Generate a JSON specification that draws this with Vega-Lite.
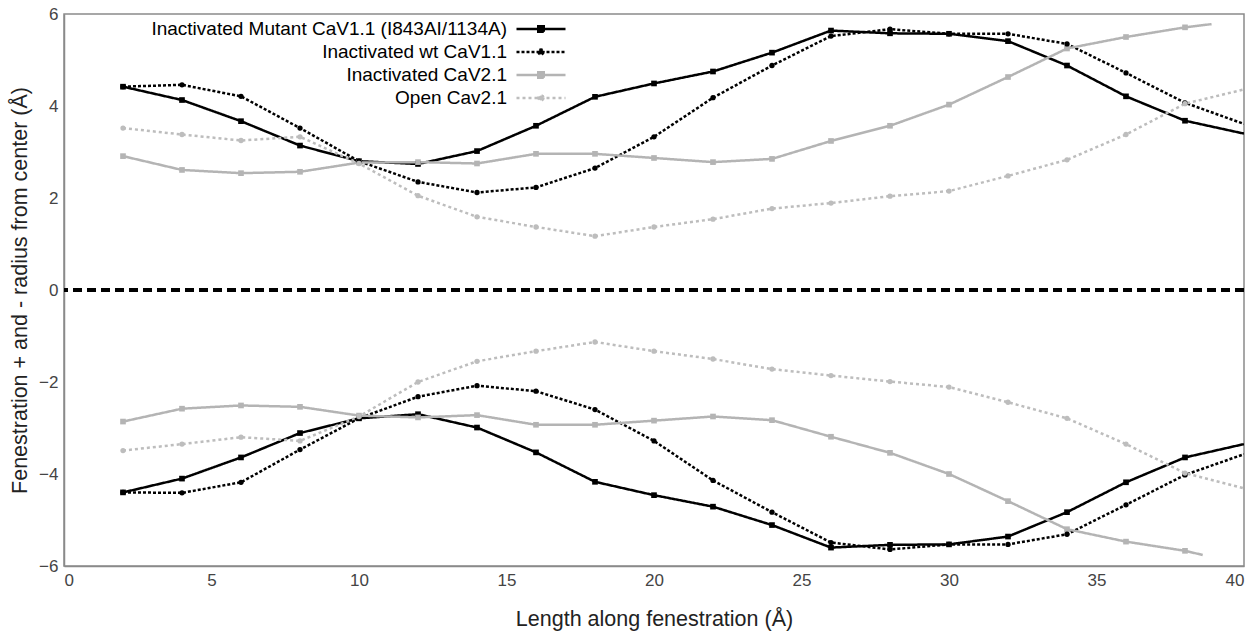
{
 "$schema": "https://vega.github.io/schema/vega-lite/v6.json",
 "width": 1180, "height": 552,
 "autosize": {"type": "none"},
 "padding": {"left": 64, "top": 14, "right": 13, "bottom": 68},
 "config": {
  "font": "Liberation Sans",
  "view": {"stroke": "#8a8a8a", "strokeWidth": 1.5},
  "axis": {"grid": false, "domainColor": "#8a8a8a", "domainWidth": 1.5, "labelFontSize": 17, "labelColor": "#444", "titleFontSize": 21.5, "titleFontWeight": "normal", "titleColor": "#222", "ticks": false, "labelPadding": 6},
  "legend": {"orient": "none", "legendX": 451.5, "legendY": 5.5, "title": null, "padding": 0, "symbolType": "stroke", "symbolSize": 100, "symbolStrokeWidth": 2.5, "symbolOffset": 16, "labelAlign": "right", "labelOffset": -43.5, "labelFontSize": 19, "labelColor": "#000", "labelLimit": 0, "rowPadding": 3}
 },
 "data": {"values": [
  {"x":2,"y":4.42,"s":"A","h":"t"},{"x":4,"y":4.13,"s":"A","h":"t"},{"x":6,"y":3.67,"s":"A","h":"t"},{"x":8,"y":3.14,"s":"A","h":"t"},{"x":10,"y":2.80,"s":"A","h":"t"},{"x":12,"y":2.74,"s":"A","h":"t"},{"x":14,"y":3.02,"s":"A","h":"t"},{"x":16,"y":3.57,"s":"A","h":"t"},{"x":18,"y":4.20,"s":"A","h":"t"},{"x":20,"y":4.49,"s":"A","h":"t"},{"x":22,"y":4.75,"s":"A","h":"t"},{"x":24,"y":5.16,"s":"A","h":"t"},{"x":26,"y":5.64,"s":"A","h":"t"},{"x":28,"y":5.58,"s":"A","h":"t"},{"x":30,"y":5.57,"s":"A","h":"t"},{"x":32,"y":5.41,"s":"A","h":"t"},{"x":34,"y":4.88,"s":"A","h":"t"},{"x":36,"y":4.21,"s":"A","h":"t"},{"x":38,"y":3.68,"s":"A","h":"t"},{"x":40,"y":3.40,"s":"A","h":"t"},
  {"x":2,"y":4.42,"s":"B","h":"t"},{"x":4,"y":4.46,"s":"B","h":"t"},{"x":6,"y":4.21,"s":"B","h":"t"},{"x":8,"y":3.52,"s":"B","h":"t"},{"x":10,"y":2.80,"s":"B","h":"t"},{"x":12,"y":2.35,"s":"B","h":"t"},{"x":14,"y":2.12,"s":"B","h":"t"},{"x":16,"y":2.23,"s":"B","h":"t"},{"x":18,"y":2.65,"s":"B","h":"t"},{"x":20,"y":3.33,"s":"B","h":"t"},{"x":22,"y":4.18,"s":"B","h":"t"},{"x":24,"y":4.88,"s":"B","h":"t"},{"x":26,"y":5.52,"s":"B","h":"t"},{"x":28,"y":5.67,"s":"B","h":"t"},{"x":30,"y":5.57,"s":"B","h":"t"},{"x":32,"y":5.57,"s":"B","h":"t"},{"x":34,"y":5.35,"s":"B","h":"t"},{"x":36,"y":4.72,"s":"B","h":"t"},{"x":38,"y":4.07,"s":"B","h":"t"},{"x":40,"y":3.61,"s":"B","h":"t"},
  {"x":2,"y":2.91,"s":"C","h":"t"},{"x":4,"y":2.61,"s":"C","h":"t"},{"x":6,"y":2.54,"s":"C","h":"t"},{"x":8,"y":2.57,"s":"C","h":"t"},{"x":10,"y":2.77,"s":"C","h":"t"},{"x":12,"y":2.78,"s":"C","h":"t"},{"x":14,"y":2.75,"s":"C","h":"t"},{"x":16,"y":2.96,"s":"C","h":"t"},{"x":18,"y":2.96,"s":"C","h":"t"},{"x":20,"y":2.87,"s":"C","h":"t"},{"x":22,"y":2.78,"s":"C","h":"t"},{"x":24,"y":2.85,"s":"C","h":"t"},{"x":26,"y":3.24,"s":"C","h":"t"},{"x":28,"y":3.57,"s":"C","h":"t"},{"x":30,"y":4.03,"s":"C","h":"t"},{"x":32,"y":4.63,"s":"C","h":"t"},{"x":34,"y":5.25,"s":"C","h":"t"},{"x":36,"y":5.50,"s":"C","h":"t"},{"x":38,"y":5.71,"s":"C","h":"t"},{"x":38.9,"y":5.78,"s":"C","h":"t"},
  {"x":2,"y":3.52,"s":"D","h":"t"},{"x":4,"y":3.38,"s":"D","h":"t"},{"x":6,"y":3.25,"s":"D","h":"t"},{"x":8,"y":3.33,"s":"D","h":"t"},{"x":10,"y":2.75,"s":"D","h":"t"},{"x":12,"y":2.05,"s":"D","h":"t"},{"x":14,"y":1.59,"s":"D","h":"t"},{"x":16,"y":1.37,"s":"D","h":"t"},{"x":18,"y":1.17,"s":"D","h":"t"},{"x":20,"y":1.37,"s":"D","h":"t"},{"x":22,"y":1.54,"s":"D","h":"t"},{"x":24,"y":1.77,"s":"D","h":"t"},{"x":26,"y":1.89,"s":"D","h":"t"},{"x":28,"y":2.04,"s":"D","h":"t"},{"x":30,"y":2.15,"s":"D","h":"t"},{"x":32,"y":2.48,"s":"D","h":"t"},{"x":34,"y":2.83,"s":"D","h":"t"},{"x":36,"y":3.38,"s":"D","h":"t"},{"x":38,"y":4.05,"s":"D","h":"t"},{"x":40,"y":4.36,"s":"D","h":"t"},
  {"x":2,"y":-4.40,"s":"A","h":"b"},{"x":4,"y":-4.10,"s":"A","h":"b"},{"x":6,"y":-3.64,"s":"A","h":"b"},{"x":8,"y":-3.11,"s":"A","h":"b"},{"x":10,"y":-2.79,"s":"A","h":"b"},{"x":12,"y":-2.70,"s":"A","h":"b"},{"x":14,"y":-2.99,"s":"A","h":"b"},{"x":16,"y":-3.53,"s":"A","h":"b"},{"x":18,"y":-4.17,"s":"A","h":"b"},{"x":20,"y":-4.46,"s":"A","h":"b"},{"x":22,"y":-4.71,"s":"A","h":"b"},{"x":24,"y":-5.11,"s":"A","h":"b"},{"x":26,"y":-5.60,"s":"A","h":"b"},{"x":28,"y":-5.54,"s":"A","h":"b"},{"x":30,"y":-5.53,"s":"A","h":"b"},{"x":32,"y":-5.36,"s":"A","h":"b"},{"x":34,"y":-4.83,"s":"A","h":"b"},{"x":36,"y":-4.18,"s":"A","h":"b"},{"x":38,"y":-3.64,"s":"A","h":"b"},{"x":40,"y":-3.35,"s":"A","h":"b"},
  {"x":2,"y":-4.40,"s":"B","h":"b"},{"x":4,"y":-4.41,"s":"B","h":"b"},{"x":6,"y":-4.18,"s":"B","h":"b"},{"x":8,"y":-3.47,"s":"B","h":"b"},{"x":10,"y":-2.79,"s":"B","h":"b"},{"x":12,"y":-2.32,"s":"B","h":"b"},{"x":14,"y":-2.08,"s":"B","h":"b"},{"x":16,"y":-2.20,"s":"B","h":"b"},{"x":18,"y":-2.60,"s":"B","h":"b"},{"x":20,"y":-3.28,"s":"B","h":"b"},{"x":22,"y":-4.14,"s":"B","h":"b"},{"x":24,"y":-4.83,"s":"B","h":"b"},{"x":26,"y":-5.49,"s":"B","h":"b"},{"x":28,"y":-5.64,"s":"B","h":"b"},{"x":30,"y":-5.53,"s":"B","h":"b"},{"x":32,"y":-5.53,"s":"B","h":"b"},{"x":34,"y":-5.31,"s":"B","h":"b"},{"x":36,"y":-4.67,"s":"B","h":"b"},{"x":38,"y":-4.02,"s":"B","h":"b"},{"x":40,"y":-3.57,"s":"B","h":"b"},
  {"x":2,"y":-2.86,"s":"C","h":"b"},{"x":4,"y":-2.58,"s":"C","h":"b"},{"x":6,"y":-2.51,"s":"C","h":"b"},{"x":8,"y":-2.54,"s":"C","h":"b"},{"x":10,"y":-2.73,"s":"C","h":"b"},{"x":12,"y":-2.77,"s":"C","h":"b"},{"x":14,"y":-2.72,"s":"C","h":"b"},{"x":16,"y":-2.93,"s":"C","h":"b"},{"x":18,"y":-2.93,"s":"C","h":"b"},{"x":20,"y":-2.84,"s":"C","h":"b"},{"x":22,"y":-2.75,"s":"C","h":"b"},{"x":24,"y":-2.83,"s":"C","h":"b"},{"x":26,"y":-3.19,"s":"C","h":"b"},{"x":28,"y":-3.54,"s":"C","h":"b"},{"x":30,"y":-4.00,"s":"C","h":"b"},{"x":32,"y":-4.59,"s":"C","h":"b"},{"x":34,"y":-5.20,"s":"C","h":"b"},{"x":36,"y":-5.47,"s":"C","h":"b"},{"x":38,"y":-5.67,"s":"C","h":"b"},{"x":38.6,"y":-5.76,"s":"C","h":"b"},
  {"x":2,"y":-3.49,"s":"D","h":"b"},{"x":4,"y":-3.35,"s":"D","h":"b"},{"x":6,"y":-3.20,"s":"D","h":"b"},{"x":8,"y":-3.28,"s":"D","h":"b"},{"x":10,"y":-2.75,"s":"D","h":"b"},{"x":12,"y":-2.00,"s":"D","h":"b"},{"x":14,"y":-1.55,"s":"D","h":"b"},{"x":16,"y":-1.33,"s":"D","h":"b"},{"x":18,"y":-1.13,"s":"D","h":"b"},{"x":20,"y":-1.33,"s":"D","h":"b"},{"x":22,"y":-1.50,"s":"D","h":"b"},{"x":24,"y":-1.72,"s":"D","h":"b"},{"x":26,"y":-1.86,"s":"D","h":"b"},{"x":28,"y":-1.99,"s":"D","h":"b"},{"x":30,"y":-2.11,"s":"D","h":"b"},{"x":32,"y":-2.44,"s":"D","h":"b"},{"x":34,"y":-2.79,"s":"D","h":"b"},{"x":36,"y":-3.35,"s":"D","h":"b"},{"x":38,"y":-3.98,"s":"D","h":"b"},{"x":40,"y":-4.31,"s":"D","h":"b"}
 ]},
 "layer": [
  {"mark": {"type": "rule", "strokeDash": [9, 5], "strokeWidth": 2.5, "color": "#000"}, "encoding": {"y": {"datum": 0}}},
  {"mark": {"type": "line", "clip": true},
   "encoding": {
    "x": {"field": "x", "type": "quantitative", "scale": {"domain": [0, 40], "nice": false}, "axis": {"values": [0,5,10,15,20,25,30,35,40], "title": "Length along fenestration (Å)", "titlePadding": 20}},
    "y": {"field": "y", "type": "quantitative", "scale": {"domain": [-6, 6], "nice": false}, "axis": {"values": [-6,-4,-2,0,2,4,6], "title": "Fenestration + and - radius from center (Å)", "titlePadding": 7}},
    "detail": {"field": "h"},
    "color": {"field": "s", "type": "nominal", "scale": {"domain": ["A","B","C","D"], "range": ["#000000","#000000","#b4b4b4","#bdbdbd"]},
      "legend": {"labelExpr": "datum.value == 'A' ? 'Inactivated Mutant CaV1.1 (I843AI/1134A)' : datum.value == 'B' ? 'Inactivated wt CaV1.1' : datum.value == 'C' ? 'Inactivated CaV2.1' : 'Open Cav2.1'",
       "encode": {"symbols": {"update": {
         "shape": {"signal": "datum.value == 'A' || datum.value == 'C' ? 'M-4.9,0H4.9M-0.55,-0.55H0.55V0.55H-0.55Z' : 'M-4.9,0H4.9M0.5,0A0.5,0.5,0,1,1,-0.5,0A0.5,0.5,0,1,1,0.5,0'"},
         "size": {"value": 100},
         "fill": {"scale": "color", "field": "value"},
         "stroke": {"scale": "color", "field": "value"},
         "strokeDash": {"scale": "strokeDash", "field": "value"},
         "strokeWidth": {"scale": "strokeWidth", "field": "value"},
         "opacity": {"value": 1}}}}}},
    "strokeDash": {"field": "s", "type": "nominal", "scale": {"domain": ["A","B","C","D"], "range": [[1,0],[3,2],[1,0],[3,3]]},
      "legend": {"labelExpr": "datum.value == 'A' ? 'Inactivated Mutant CaV1.1 (I843AI/1134A)' : datum.value == 'B' ? 'Inactivated wt CaV1.1' : datum.value == 'C' ? 'Inactivated CaV2.1' : 'Open Cav2.1'",
       "encode": {"symbols": {"update": {
         "shape": {"signal": "datum.value == 'A' || datum.value == 'C' ? 'M-4.9,0H4.9M-0.55,-0.55H0.55V0.55H-0.55Z' : 'M-4.9,0H4.9M0.5,0A0.5,0.5,0,1,1,-0.5,0A0.5,0.5,0,1,1,0.5,0'"},
         "size": {"value": 100},
         "fill": {"scale": "color", "field": "value"},
         "stroke": {"scale": "color", "field": "value"},
         "strokeDash": {"scale": "strokeDash", "field": "value"},
         "strokeWidth": {"scale": "strokeWidth", "field": "value"},
         "opacity": {"value": 1}}}}}},
    "strokeWidth": {"field": "s", "type": "ordinal", "scale": {"domain": ["A","B","C","D"], "range": [2.5, 2.5, 2, 1.5]}, "legend": null}
   }},
  {"transform": [{"filter": "(datum.s == 'A' || datum.s == 'C') && datum.x == round(datum.x) && datum.x < 40"}],
   "mark": {"type": "point", "shape": "square", "filled": true, "opacity": 1, "clip": true, "size": 32},
   "encoding": {
    "x": {"field": "x", "type": "quantitative"},
    "y": {"field": "y", "type": "quantitative"},
    "color": {"field": "s", "type": "nominal", "legend": null}
   }},
  {"transform": [{"filter": "(datum.s == 'B' || datum.s == 'D') && datum.x == round(datum.x) && datum.x < 40"}],
   "mark": {"type": "point", "shape": "circle", "filled": true, "opacity": 1, "clip": true, "size": 28},
   "encoding": {
    "x": {"field": "x", "type": "quantitative"},
    "y": {"field": "y", "type": "quantitative"},
    "color": {"field": "s", "type": "nominal", "legend": null}
   }}
 ]
}
